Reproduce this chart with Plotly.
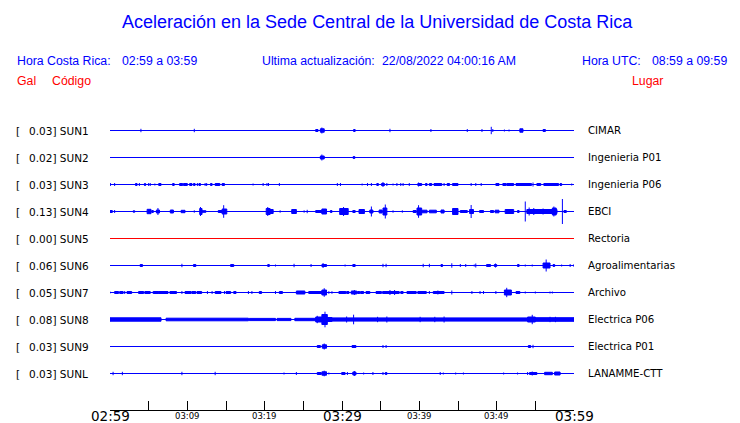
import plotly.graph_objects as go

# ---------------- data ----------------
GAL = ["0.03", "0.02", "0.03", "0.13", "0.00", "0.06", "0.05", "0.08", "0.03", "0.03"]
CODES = ["SUN1", "SUN2", "SUN3", "SUN4", "SUN5", "SUN6", "SUN7", "SUN8", "SUN9", "SUNL"]
PLACES = ["CIMAR", "Ingenieria P01", "Ingenieria P06", "EBCI", "Rectoria",
          "Agroalimentarias", "Archivo", "Electrica P06", "Electrica P01", "LANAMME-CTT"]

# time axis: minutes after 02:59
TICK_MINUTES = [0, 5, 10, 15, 20, 25, 30, 35, 40, 45, 50, 55, 60]
MAJOR_LABELS = [(0, "02:59"), (30, "03:29"), (60, "03:59")]
MINOR_LABELS = [(10, "03:09"), (20, "03:19"), (40, "03:39"), (50, "03:49")]

# spikes: (minute, half amplitude) ; bursts: (start minute, end minute, half amplitude)
SUN1_SPIKES = [(4.0, 1.7), (10.9, 1.7), (27.4, 3.0), (36.2, 1.7), (41.5, 1.5), (46.2, 1.5),
               (48.1, 1.5), (49.3, 3.7), (49.5, 1.5), (51.0, 1.0), (51.6, 1.0)]
SUN1_BURSTS = [(26.6, 26.9, 1.5), (27.2, 27.7, 2.2), (31.5, 31.7, 1.5), (53.0, 53.4, 2.2),
               (56.0, 56.3, 1.5)]

SUN2_SPIKES = [(27.4, 3.0)]
SUN2_BURSTS = [(27.2, 27.7, 2.0), (31.45, 31.65, 1.5)]

SUN3_SPIKES = [(0.05, 1.5), (0.6, 1.5), (3.8, 1.5), (5.0, 1.5), (5.2, 1.5), (5.8, 1.0), (11.3, 1.5),
               (12.3, 1.5), (12.5, 1.5), (18.5, 1.0), (19.8, 1.5), (20.3, 1.5), (20.5, 1.5),
               (21.9, 1.5), (29.4, 1.5), (29.8, 1.5), (32.6, 1.0), (33.3, 1.5), (33.8, 1.5),
               (35.3, 2.5), (35.8, 1.5), (36.6, 1.0), (37.1, 1.5), (37.6, 1.5), (37.9, 1.5),
               (38.7, 1.5), (39.9, 2.0), (43.2, 1.5), (46.7, 1.5), (47.3, 1.5), (48.0, 1.5),
               (54.7, 2.0), (59.7, 1.0)]
SUN3_BURSTS = [(3.3, 3.5, 1.5), (4.45, 4.6, 1.5), (6.3, 6.6, 1.5), (8.1, 8.3, 1.5), (9.0, 9.4, 1.5),
               (9.5, 10.0, 1.5), (10.3, 10.6, 1.5), (10.8, 11.0, 1.5), (11.5, 11.7, 1.5),
               (13.0, 13.2, 1.5), (13.6, 14.2, 1.5), (14.5, 14.8, 1.5), (34.5, 34.7, 1.5),
               (35.1, 35.5, 1.5), (39.8, 40.3, 1.5), (40.8, 41.0, 1.5), (41.3, 41.6, 1.5),
               (41.9, 42.9, 1.5), (43.6, 43.9, 1.5), (44.3, 45.0, 1.5), (49.9, 50.3, 1.5),
               (50.8, 51.2, 1.5), (51.3, 52.2, 1.5), (52.5, 54.5, 1.5), (55.2, 55.7, 1.5),
               (56.1, 58.0, 1.5), (58.2, 58.4, 1.5)]

SUN4_SPIKES = [(0.6, 1.5), (6.2, 3.5), (10.9, 1.2), (11.7, 4.5), (14.7, 6.3), (20.4, 4.5), (22.0, 1.2),
               (25.1, 1.2), (25.5, 1.7), (30.2, 4.5), (33.8, 5.0), (35.6, 7.0), (36.6, 1.2),
               (37.8, 1.2), (39.9, 6.3), (46.7, 6.5), (53.7, 10.0), (54.2, 4.0), (54.8, 3.5),
               (56.0, 3.0), (57.4, 5.0), (58.5, 12.5)]
SUN4_BURSTS = [(0.0, 0.3, 1.5), (3.0, 3.2, 1.2), (4.8, 5.3, 2.7), (5.4, 5.6, 1.5), (6.0, 6.4, 2.0),
               (7.8, 8.2, 2.0), (9.2, 9.7, 1.7), (11.6, 11.9, 3.5), (11.9, 12.4, 1.3),
               (14.0, 14.5, 1.5), (14.5, 15.1, 3.0), (20.2, 20.7, 3.5), (20.7, 21.1, 2.5),
               (23.5, 24.1, 2.5), (26.6, 27.4, 1.5), (27.4, 28.0, 3.0), (28.5, 28.7, 1.5),
               (29.7, 30.8, 3.5), (31.4, 31.7, 1.5), (32.2, 32.9, 2.5), (33.6, 34.0, 2.0),
               (34.8, 35.2, 2.0), (35.3, 35.8, 4.0), (39.2, 39.6, 1.5), (39.7, 40.3, 4.0),
               (40.3, 41.0, 1.8), (41.3, 42.2, 1.8), (42.8, 43.2, 2.0), (44.3, 45.0, 3.5),
               (45.3, 46.2, 1.5), (46.5, 47.0, 2.5), (47.8, 48.3, 1.5), (49.2, 49.6, 1.5),
               (49.8, 50.3, 1.8), (51.1, 52.2, 2.5), (52.7, 52.9, 1.5), (53.9, 57.8, 2.5),
               (57.2, 57.7, 4.0), (58.7, 59.0, 1.5)]

SUN5_SPIKES = []
SUN5_BURSTS = []

SUN6_SPIKES = [(9.3, 1.7), (21.4, 1.0), (23.8, 1.7), (26.0, 1.5), (27.55, 2.5), (30.4, 1.0),
               (35.3, 1.7), (35.7, 1.7), (40.5, 1.7), (41.3, 1.7), (44.2, 2.2), (45.3, 1.5),
               (46.0, 1.5), (47.1, 1.0), (47.3, 2.0), (49.85, 2.0), (53.7, 1.0), (54.6, 1.0),
               (56.4, 6.0), (58.4, 1.0), (59.5, 1.5), (60.0, 1.5)]
SUN6_BURSTS = [(3.9, 4.2, 1.5), (10.8, 11.1, 1.5), (15.6, 16.0, 1.5), (20.4, 20.6, 1.5),
               (27.4, 28.0, 1.5), (31.4, 31.7, 1.5), (42.8, 43.0, 1.5), (48.7, 49.2, 1.5),
               (49.7, 50.0, 1.5), (52.7, 52.9, 1.5), (56.0, 56.9, 3.0), (57.3, 57.5, 1.5)]

SUN7_SPIKES = [(0.0, 1.0), (1.9, 1.5), (5.6, 1.5), (9.3, 1.5), (12.6, 1.5), (13.2, 1.5), (14.8, 1.5),
               (17.9, 1.5), (18.35, 1.5), (21.4, 1.5), (27.7, 4.3), (28.3, 1.3), (28.7, 1.3),
               (31.6, 2.5), (36.2, 2.5), (36.8, 2.5), (41.3, 1.5), (42.4, 2.0), (44.2, 2.0),
               (46.8, 1.5), (47.85, 1.5), (48.3, 1.5), (49.9, 1.5), (51.3, 4.7), (53.7, 1.0),
               (55.0, 1.0), (56.9, 1.0), (57.2, 1.0)]
SUN7_BURSTS = [(0.6, 1.1, 1.5), (1.25, 1.7, 1.5), (2.2, 2.8, 1.5), (3.7, 4.35, 1.5), (4.5, 5.2, 1.5),
               (5.65, 6.25, 1.5), (6.25, 7.5, 1.5), (7.75, 8.6, 1.5), (9.7, 10.5, 1.5),
               (10.6, 11.1, 1.5), (11.25, 11.85, 1.5), (13.6, 14.35, 1.5), (15.0, 15.6, 1.5),
               (16.0, 16.3, 1.5), (19.3, 19.6, 1.5), (21.9, 22.3, 1.5), (24.1, 25.2, 2.0),
               (25.7, 27.4, 1.5), (27.4, 28.0, 3.0), (29.6, 30.5, 1.5), (30.6, 30.9, 1.5),
               (31.2, 31.9, 2.0), (32.0, 32.3, 1.5), (32.4, 32.8, 1.5), (33.1, 33.6, 1.5),
               (34.4, 35.1, 1.5), (35.25, 37.4, 1.5), (37.6, 37.9, 1.5), (38.4, 39.6, 1.5),
               (39.8, 40.9, 1.5), (41.8, 43.2, 1.5), (51.0, 51.9, 3.0), (52.5, 53.0, 1.5)]

SUN8_SPIKES = [(26.8, 3.7), (27.8, 7.8), (30.6, 3.0), (31.5, 4.8), (34.6, 2.7), (35.8, 3.0),
               (40.1, 2.7), (42.0, 2.7), (43.2, 3.0), (54.6, 4.7), (56.9, 2.7), (57.6, 2.7)]
SUN8_BURSTS = [(0.0, 6.6, 2.2), (7.25, 17.9, 1.8), (18.0, 21.4, 1.6), (21.6, 23.4, 1.6),
               (23.9, 26.6, 1.7), (26.6, 27.4, 3.0), (27.4, 28.1, 5.5), (28.1, 28.7, 2.5),
               (28.7, 54.0, 2.1), (54.0, 55.0, 3.0), (55.0, 60.0, 2.3)]

SUN9_SPIKES = [(27.7, 3.0), (35.3, 1.5), (35.7, 1.5), (54.7, 1.7)]
SUN9_BURSTS = [(26.8, 27.2, 1.5), (27.45, 28.0, 2.2), (31.3, 31.8, 1.5), (54.1, 54.4, 1.5)]

SUNL_SPIKES = [(0.4, 1.7), (1.6, 1.7), (9.3, 1.7), (13.6, 1.7), (22.5, 1.0), (24.1, 1.5), (27.7, 2.8),
               (28.3, 1.0), (30.0, 1.5), (30.7, 1.5), (31.6, 2.5), (32.8, 1.0), (34.0, 1.5),
               (35.3, 1.5), (42.7, 1.5), (43.1, 1.0), (44.7, 1.0), (45.7, 1.0), (50.9, 1.0),
               (52.7, 1.0), (54.0, 1.5), (54.6, 2.0)]
SUNL_BURSTS = [(26.8, 27.3, 1.5), (27.4, 28.0, 2.2), (30.0, 30.4, 1.5), (31.4, 31.8, 2.0),
               (35.6, 35.8, 1.5), (54.25, 55.2, 1.5), (56.2, 57.2, 1.7), (57.5, 58.2, 2.0)]

SPIKES = [SUN1_SPIKES, SUN2_SPIKES, SUN3_SPIKES, SUN4_SPIKES, SUN5_SPIKES,
          SUN6_SPIKES, SUN7_SPIKES, SUN8_SPIKES, SUN9_SPIKES, SUNL_SPIKES]
BURSTS = [SUN1_BURSTS, SUN2_BURSTS, SUN3_BURSTS, SUN4_BURSTS, SUN5_BURSTS,
          SUN6_BURSTS, SUN7_BURSTS, SUN8_BURSTS, SUN9_BURSTS, SUNL_BURSTS]
STATUS_OK = [True, True, True, True, False, True, True, True, True, True]

# ---------------- layout constants ----------------
W, H = 740, 423
ROW_GAP = 27          # y units between rows (1 unit ~ 1 px)
FIRST_ROW_PX = 130
PIX_CENTER = 0.5      # centre 1px lines on a pixel row
X0_PX, X1_PX = 110, 574
AXIS_PX = 409.5
BLUE = "#0000ff"
RED = "#ff0000"
HEAD_FONT = "Liberation Sans, Arial, sans-serif"
LAB_FONT = "DejaVu Sans, sans-serif"


def py(px):
    """pixel row -> y data units"""
    return px - FIRST_ROW_PX


def paper_x(px):
    return px / W


def paper_y(px):
    return 1 - px / H


fig = go.Figure()

for i in range(len(CODES)):
    y0 = i * ROW_GAP + PIX_CENTER
    color = BLUE if STATUS_OK[i] else RED
    xs, ys = [0, 60, None], [y0, y0, None]
    for t, a in SPIKES[i]:
        xs += [t, t, None]
        ys += [y0 - a, y0 + a, None]
    fig.add_trace(go.Scatter(x=xs, y=ys, mode="lines", line=dict(color=color, width=1),
                             hoverinfo="skip", showlegend=False))
    if BURSTS[i]:
        bx, by = [], []
        for t0, t1, a in BURSTS[i]:
            bx += [t0, t1, t1, t0, t0, None]
            by += [y0 - a + 0.5, y0 - a + 0.5, y0 + a - 0.5, y0 + a - 0.5, y0 - a + 0.5, None]
        fig.add_trace(go.Scatter(x=bx, y=by, mode="lines", fill="toself", fillcolor=color,
                                 line=dict(color=color, width=1), hoverinfo="skip",
                                 showlegend=False))

annotations = []


def ann(text, x, y, size, color, font, xanchor="left", xref="paper", yref="paper", yanchor="middle"):
    annotations.append(dict(text=text, x=x, y=y, xref=xref, yref=yref, xanchor=xanchor,
                            yanchor=yanchor, showarrow=False,
                            font=dict(size=size, color=color, family=font)))


# title and header
ann("Aceleración en la Sede Central de la Universidad de Costa Rica", paper_x(377.5), paper_y(22),
    18, BLUE, HEAD_FONT, xanchor="center")
ann("Hora Costa Rica:", paper_x(15), paper_y(61), 12.3, BLUE, HEAD_FONT)
ann("02:59 a 03:59", paper_x(120), paper_y(61), 12.3, BLUE, HEAD_FONT)
ann("Ultima actualización:", paper_x(260), paper_y(61), 12.3, BLUE, HEAD_FONT)
ann("22/08/2022 04:00:16 AM", paper_x(380), paper_y(61), 12.3, BLUE, HEAD_FONT)
ann("Hora UTC:", paper_x(580), paper_y(61), 12.3, BLUE, HEAD_FONT)
ann("08:59 a 09:59", paper_x(650), paper_y(61), 12.3, BLUE, HEAD_FONT)
ann("Gal", paper_x(15), paper_y(80.5), 12.3, RED, HEAD_FONT)
ann("Código", paper_x(50), paper_y(80.5), 12.3, RED, HEAD_FONT)
ann("Lugar", paper_x(630), paper_y(80.5), 12.3, RED, HEAD_FONT)

# row labels
for i in range(len(CODES)):
    rpx = FIRST_ROW_PX + i * ROW_GAP + 0.5
    ann("[", paper_x(14), paper_y(rpx), 10.5, "black", LAB_FONT)
    ann(f"{GAL[i]}] {CODES[i]}", paper_x(26.5), paper_y(rpx), 10.5, "black", LAB_FONT)
    ann(PLACES[i], paper_x(586), paper_y(rpx), 10.2, "black", LAB_FONT)

# time tick labels
for t, lab in MAJOR_LABELS:
    ann(lab, t, py(416), 13.5, "black", LAB_FONT, xanchor="center", xref="x", yref="y")
for t, lab in MINOR_LABELS:
    ann(lab, t, py(416), 8.5, "black", LAB_FONT, xanchor="center", xref="x", yref="y")

fig.update_layout(
    width=W, height=H,
    margin=dict(l=0, r=0, t=0, b=0),
    paper_bgcolor="white", plot_bgcolor="white",
    showlegend=False,
    annotations=annotations,
    xaxis=dict(domain=[X0_PX / W, X1_PX / W], range=[0, 60], anchor="free",
               position=(H - AXIS_PX) / H, showgrid=False, zeroline=False,
               showline=True, linecolor="black", linewidth=1,
               ticks="inside", ticklen=9, tickwidth=1, tickcolor="black",
               tickvals=TICK_MINUTES, showticklabels=False, fixedrange=True),
    yaxis=dict(domain=[0, 1], range=[py(H), py(0)], visible=False, fixedrange=True),
)

fig.write_html("out.html", config={"displayModeBar": False},
               post_script="document.body.style.margin='0';document.body.style.overflow='hidden';")
